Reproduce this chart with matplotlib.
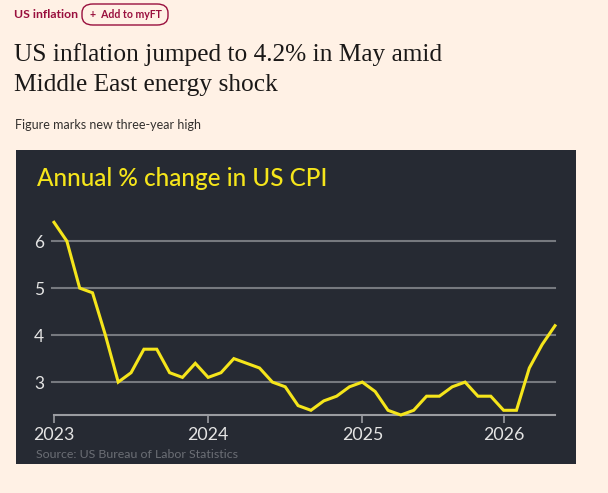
import matplotlib.pyplot as plt
from matplotlib.patches import FancyBboxPatch, Rectangle

# monthly CPI readings (Oct 2025 was never published, so it is missing)
months = ["2023-01", "2023-02", "2023-03", "2023-04", "2023-05", "2023-06",
          "2023-07", "2023-08", "2023-09", "2023-10", "2023-11", "2023-12",
          "2024-01", "2024-02", "2024-03", "2024-04", "2024-05", "2024-06",
          "2024-07", "2024-08", "2024-09", "2024-10", "2024-11", "2024-12",
          "2025-01", "2025-02", "2025-03", "2025-04", "2025-05", "2025-06",
          "2025-07", "2025-08", "2025-09", "2025-11", "2025-12",
          "2026-01", "2026-02", "2026-03", "2026-04", "2026-05"]
cpi = [6.4, 6.0, 5.0, 4.9, 4.0, 3.0, 3.2, 3.7, 3.7, 3.2, 3.1, 3.4,
       3.1, 3.2, 3.5, 3.4, 3.3, 3.0, 2.9, 2.5, 2.4, 2.6, 2.7, 2.9,
       3.0, 2.8, 2.4, 2.3, 2.4, 2.7, 2.7, 2.9, 3.0, 2.7, 2.7,
       2.4, 2.4, 3.3, 3.8, 4.2]
y_ticks = [3, 4, 5, 6]

PAGE = "#fff1e5"
PANEL = "#262a33"
CLARET = "#990f3d"
YELLOW = "#f5e51b"
SANS = ["Lato", "DejaVu Sans"]
SERIF = ["Liberation Serif", "DejaVu Serif"]

W, H = 608, 493
fig = plt.figure(figsize=(W / 100, H / 100), dpi=100, facecolor=PAGE)


def px(x, y):
    # pixel coords (top-left origin) -> figure fraction
    return x / W, 1 - y / H


# header
fig.text(*px(14, 14), "US inflation", color=CLARET, fontsize=8.8, fontweight="bold",
         family=SANS, va="center", ha="left")
bx, by = px(82, 25)
fig.patches.append(FancyBboxPatch((bx, by), 86 / W, 21 / H,
                                  boxstyle="round,pad=0,rounding_size=0.018",
                                  transform=fig.transFigure, fc="none",
                                  ec=CLARET, lw=1.0))
fig.text(*px(126, 15), "+  Add to myFT", color=CLARET, fontsize=7.6, fontweight="bold",
         family=SANS, va="center", ha="center")
fig.text(*px(14, 61), "US inflation jumped to 4.2% in May amid", fontsize=18.3,
         family=SERIF, color="#1a1817", va="baseline", ha="left")
fig.text(*px(14, 91), "Middle East energy shock", fontsize=18.3,
         family=SERIF, color="#1a1817", va="baseline", ha="left")
fig.text(*px(15, 125), "Figure marks new three-year high", fontsize=9,
         family=SANS, color="#33302e", va="center", ha="left")

# dark chart panel
px0, py0 = px(16, 464)
fig.patches.append(Rectangle((px0, py0), 560 / W, 314 / H, transform=fig.transFigure,
                             fc=PANEL, ec="none", zorder=0))
fig.text(*px(37, 178), "Annual % change in US CPI", color=YELLOW, fontsize=17.5,
         fontweight="medium", family=SANS, va="center", ha="left")
fig.text(*px(36, 454), "Source: US Bureau of Labor Statistics", color="#6b6e75",
         fontsize=8.9, family=SANS, va="center", ha="left")

# plot area: x = month index, y = value
ymin, ymax = 2.3, 6.6
x_left, x_right = 54, 555
y_base = 415
unit = 47.0
y_top = y_base - (ymax - ymin) * unit
l, b = px(x_left, y_base)
ax = fig.add_axes([l, b, (x_right - x_left) / W, (y_base - y_top) / H])
ax.set_facecolor("none")
ax.set_zorder(3)

xs = list(range(len(months)))
ax.set_xlim(0, len(months) - 1)
ax.set_ylim(ymin, ymax)

for v in y_ticks:
    ax.axhline(v, color="#76797f", lw=1.5, zorder=1, xmin=-0.004, clip_on=False)
ax.axhline(ymin, color="#9a9ca1", lw=1.5, zorder=1, clip_on=False)

ax.plot(xs, cpi, color=YELLOW, lw=2.2, zorder=3, clip_on=False,
        solid_joinstyle="miter")

year_pos = [i for i, m in enumerate(months) if m.endswith("-01")]
year_lab = [months[i][:4] for i in year_pos]
ax.set_xticks(year_pos)
ax.set_xticklabels(year_lab)
ax.set_yticks(y_ticks)
ax.set_yticklabels([str(v) for v in y_ticks])

ax.tick_params(axis="x", length=6, width=1.2, color="#9a9ca1", pad=3,
               labelsize=12.8, labelcolor="#e4e4e4")
ax.tick_params(axis="y", length=0, pad=7, labelsize=12.5, labelcolor="#e4e4e4")
for lab in ax.get_xticklabels() + ax.get_yticklabels():
    lab.set_family(SANS)
for s in ax.spines.values():
    s.set_visible(False)

fig.savefig("out.png", dpi=100, facecolor=PAGE)
